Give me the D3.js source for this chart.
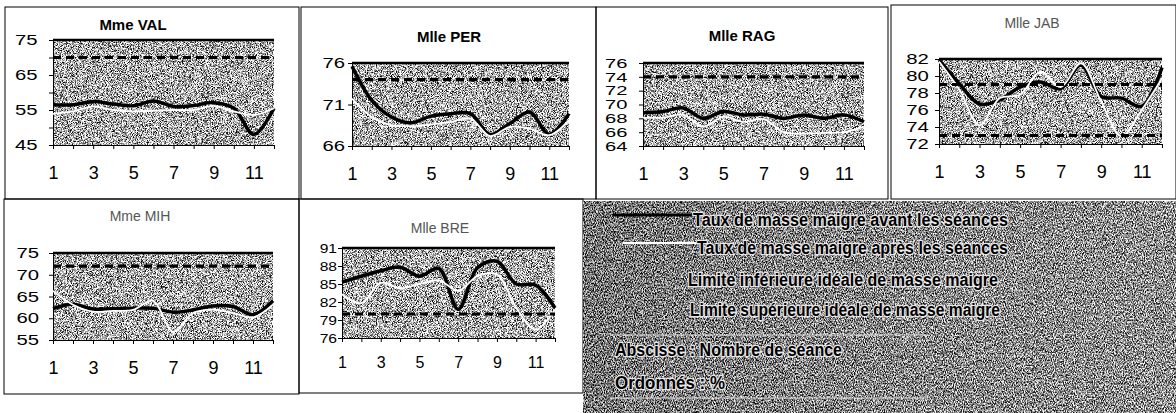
<!DOCTYPE html>
<html lang="fr">
<head>
<meta charset="UTF-8">
<title>Taux de masse maigre</title>
<script src="https://d3js.org/d3.v7.min.js"></script>
<style>
  body { margin: 0; background: #fff; }
  svg { display: block; font-family: Arial, "Liberation Sans", sans-serif; }
  .tick line, .domain { stroke: #000; }
</style>
</head>
<body>
<svg id="chart" width="1176" height="413"></svg>
<script>
// séances (abscisse)
const sessions = [1, 2, 3, 4, 5, 6, 7, 8, 9, 10, 11, 12];

// taux de masse maigre avant / après les séances (%)
const valAvant = [56.5, 56.5, 57.4, 56.7, 56.2, 57.6, 56.0, 56.3, 57.1, 55.5, 48.0, 55.5];
const valApres = [53.9, 54.6, 56.0, 55.0, 54.6, 54.8, 55.0, 55.0, 56.2, 54.6, 53.6, 55.5];
const perAvant = [75.6, 71.5, 69.5, 68.8, 69.6, 69.9, 69.9, 67.4, 68.7, 70.1, 67.4, 69.9];
const perApres = [71.7, 69.5, 68.5, 68.4, 68.6, 68.9, 69.3, 67.2, 68.3, 68.1, 67.3, 69.1];
const ragAvant = [68.8, 69.0, 69.5, 68.0, 69.0, 68.5, 68.6, 68.0, 68.5, 68.0, 68.5, 67.5];
const ragApres = [68.1, 68.1, 68.5, 66.8, 68.2, 67.5, 67.9, 66.0, 65.8, 65.9, 66.0, 66.8];
const jabAvant = [81.9, 79.1, 76.7, 77.2, 78.7, 79.3, 78.5, 81.3, 77.6, 77.4, 76.4, 81.0];
const jabApres = [81.7, 78.4, 74.2, 77.4, 77.8, 80.5, 78.7, 81.5, 77.0, 72.9, 76.0, 79.7];
const mihAvant = [62.2, 63.2, 62.1, 62.2, 62.3, 62.3, 61.4, 61.9, 62.8, 62.7, 60.8, 64.0];
const mihApres = [66.3, 63.1, 61.5, 61.7, 61.9, 64.0, 56.9, 61.2, 62.0, 61.2, 60.2, 63.1];
const breAvant = [85.3, 86.3, 87.2, 87.8, 86.3, 87.6, 80.8, 87.7, 88.8, 85.0, 84.8, 81.0];
const breApres = [83.3, 81.8, 85.2, 84.3, 85.0, 85.6, 83.9, 86.3, 86.6, 81.0, 77.4, 80.7];

// limites idéales visibles (%)
const valLimites = [70];
const perLimites = [74];
const ragLimites = [74];
const jabLimites = [79, 73];
const mihLimites = [72];
const breLimites = [80];

// graduations de l'ordonnée
const valTicks = [45, 50, 55, 60, 65, 70, 75];
const valLabels = [45, 55, 65, 75];
const perTicks = [66, 71, 76];
const ragTicks = [64, 66, 68, 70, 72, 74, 76];
const jabTicks = [72, 74, 76, 78, 80, 82];
const mihTicks = [55, 60, 65, 70, 75];
const breTicks = [76, 79, 82, 85, 88, 91];
const xLabels = [1, 3, 5, 7, 9, 11];

const legendLabels = [
  "Taux de masse maigre avant les séances",
  "Taux de masse maigre après les séances",
  "Limite inférieure idéale de masse maigre",
  "Limite supérieure idéale de masse maigre"
];
const axisNotes = ["Abscisse : Nombre de séance", "Ordonnés : %"];

const panels = [
  { title: "Mme VAL", bold: true, avant: valAvant, apres: valApres, lim: valLimites, ticks: valTicks, labels: valLabels,
    box: [5, 7, 299, 199], plot: [53, 274, 40, 145], tx: 133, ty: 30, pad: 7, fs: 14.5, sx: 1.4, xfs: 18 },
  { title: "Mlle PER", bold: true, avant: perAvant, apres: perApres, lim: perLimites, ticks: perTicks, labels: perTicks,
    box: [301, 7, 596, 199], plot: [352, 569, 63, 146], tx: 449, ty: 42, pad: 1, fs: 14.5, sx: 1.4, xfs: 18 },
  { title: "Mlle RAG", bold: true, avant: ragAvant, apres: ragApres, lim: ragLimites, ticks: ragTicks, labels: ragTicks,
    box: [596, 7, 888, 199], plot: [643, 864, 63, 146], tx: 742, ty: 41, pad: 6, fs: 13, sx: 1.55, xfs: 18 },
  { title: "Mlle JAB", bold: false, avant: jabAvant, apres: jabApres, lim: jabLimites, ticks: jabTicks, labels: jabTicks,
    box: [891, 5, 1176, 199], plot: [939, 1162, 59, 144], tx: 1032, ty: 28, pad: 3, fs: 14, sx: 1.45, xfs: 18 },
  { title: "Mme MIH", bold: false, avant: mihAvant, apres: mihApres, lim: mihLimites, ticks: mihTicks, labels: mihTicks,
    box: [4, 199, 299, 394], plot: [53, 273, 253, 340], tx: 140, ty: 221, pad: 6, fs: 14.5, sx: 1.4, xfs: 18 },
  { title: "Mlle BRE", bold: false, avant: breAvant, apres: breApres, lim: breLimites, ticks: breTicks, labels: breTicks,
    box: [299, 199, 583, 393], plot: [342, 555, 248, 338], tx: 440, ty: 233, pad: 0, fs: 12.5, sx: 1.25, xfs: 16 }
];

const svg = d3.select("#chart");
const defs = svg.append("defs");

// texture tramée (bruit en niveaux de gris)
function noiseFilter(id, freq, slope, offset, seed) {
  const f = defs.append("filter").attr("id", id)
    .attr("x", 0).attr("y", 0).attr("width", 1).attr("height", 1)
    .attr("color-interpolation-filters", "sRGB");
  f.append("feTurbulence").attr("type", "fractalNoise").attr("baseFrequency", freq)
    .attr("numOctaves", 2).attr("seed", seed).attr("result", "n");
  f.append("feColorMatrix").attr("type", "matrix")
    .attr("values", `${slope} 0 0 0 ${offset}  ${slope} 0 0 0 ${offset}  ${slope} 0 0 0 ${offset}  0 0 0 0 1`);
  f.append("feComposite").attr("in2", "SourceGraphic").attr("operator", "in");
}
noiseFilter("speckle", "1.2", 3, -0.82, 3);
noiseFilter("grass", "1.1 0.6", 2.6, -0.78, 7);

// assombrissement à gauche de la légende
const grad = defs.append("linearGradient").attr("id", "shade");
grad.append("stop").attr("offset", "0").attr("stop-color", "#000").attr("stop-opacity", 0.12);
grad.append("stop").attr("offset", "1").attr("stop-color", "#fff").attr("stop-opacity", 0.08);

svg.append("rect").attr("width", 1176).attr("height", 413).attr("fill", "#fff");

const line = (x, y) => d3.line().x((d, i) => x(sessions[i])).y(d => y(d)).curve(d3.curveCatmullRom.alpha(0.5));

panels.forEach(p => {
  const [bx0, by0, bx1, by1] = p.box;
  const [px0, px1, py0, py1] = p.plot;
  const g = svg.append("g");

  g.append("rect").attr("x", bx0).attr("y", by0).attr("width", bx1 - bx0).attr("height", by1 - by0)
    .attr("fill", "none").attr("stroke", "#000").attr("stroke-width", 1);

  const x = d3.scaleLinear().domain([1, 12]).range([px0, px1]);
  const y = d3.scaleLinear().domain(d3.extent(p.ticks)).range([py1, py0]);

  g.append("rect").attr("x", px0).attr("y", py0).attr("width", px1 - px0).attr("height", py1 - py0)
    .attr("fill", "#fff").attr("filter", "url(#speckle)");

  // axes
  const ya = g.append("g").attr("transform", `translate(${px0},0)`)
    .call(d3.axisLeft(y).tickValues(p.ticks).tickSize(4).tickSizeOuter(0).tickPadding(p.pad)
      .tickFormat(d => p.labels.includes(d) ? d : ""));
  ya.selectAll("text").attr("font-size", p.fs).attr("fill", "#000").attr("font-family", "Arial")
    .attr("transform", `scale(${p.sx},1)`);

  const xa = g.append("g").attr("transform", `translate(0,${py1})`)
    .call(d3.axisBottom(x).tickValues(sessions).tickSize(4).tickSizeOuter(0).tickPadding(p.xfs - 1)
      .tickFormat(d => xLabels.includes(d) ? d : ""));
  xa.selectAll("text").attr("font-size", p.xfs).attr("fill", "#000").attr("font-family", "Arial");

  // bord supérieur épais
  g.append("line").attr("x1", px0).attr("x2", px1).attr("y1", py0).attr("y2", py0)
    .attr("stroke", "#000").attr("stroke-width", 2.5);

  g.append("path").datum(p.avant).attr("d", line(x, y)).attr("fill", "none")
    .attr("stroke", "#000").attr("stroke-width", 3.5);
  g.append("path").datum(p.apres).attr("d", line(x, y)).attr("fill", "none")
    .attr("stroke", "#fff").attr("stroke-width", 1.8);

  g.selectAll(".lim").data(p.lim).join("line").attr("class", "lim")
    .attr("x1", px0).attr("x2", px1).attr("y1", d => y(d)).attr("y2", d => y(d))
    .attr("stroke", "#000").attr("stroke-width", 3.2).attr("stroke-dasharray", "8 5");

  g.append("text").attr("x", p.tx).attr("y", p.ty).attr("text-anchor", "middle")
    .attr("font-size", p.bold ? 15 : 14).attr("font-weight", p.bold ? "bold" : "normal")
    .attr("fill", p.bold ? "#000" : "#555").text(p.title);
});

// légende
const lg = svg.append("g");
lg.append("rect").attr("x", 583).attr("y", 201).attr("width", 593).attr("height", 212)
  .attr("fill", "#fff").attr("filter", "url(#grass)");
lg.append("rect").attr("x", 583).attr("y", 201).attr("width", 593).attr("height", 212)
  .attr("fill", "url(#shade)");
lg.append("line").attr("x1", 613).attr("x2", 700).attr("y1", 215).attr("y2", 215)
  .attr("stroke", "#000").attr("stroke-width", 3);
lg.append("line").attr("x1", 623).attr("x2", 708).attr("y1", 243).attr("y2", 243)
  .attr("stroke", "#fff").attr("stroke-width", 2);

const legendPos = [[693, 226, 315], [697, 254, 311], [688, 286, 310], [690, 316, 310]];
legendLabels.forEach((t, i) => {
  lg.append("text").attr("x", legendPos[i][0]).attr("y", legendPos[i][1])
    .attr("textLength", legendPos[i][2]).attr("lengthAdjust", "spacingAndGlyphs")
    .attr("font-size", 18).attr("font-weight", 900).attr("fill", "#000")
    .attr("stroke", "#e8e8e8").attr("stroke-width", 2.4).attr("paint-order", "stroke").text(t);
});
[335, 398].forEach(yy => lg.append("line").attr("x1", 610).attr("x2", 928).attr("y1", yy).attr("y2", yy)
  .attr("stroke", "#e0e0e0").attr("stroke-width", 1));
const notePos = [[615, 356, 227], [615, 389, 110]];
axisNotes.forEach((t, i) => {
  lg.append("text").attr("x", notePos[i][0]).attr("y", notePos[i][1])
    .attr("textLength", notePos[i][2]).attr("lengthAdjust", "spacingAndGlyphs")
    .attr("font-size", 18).attr("font-weight", 900).attr("fill", "#000")
    .attr("stroke", "#e8e8e8").attr("stroke-width", 2.4).attr("paint-order", "stroke").text(t);
});
</script>
</body>
</html>
